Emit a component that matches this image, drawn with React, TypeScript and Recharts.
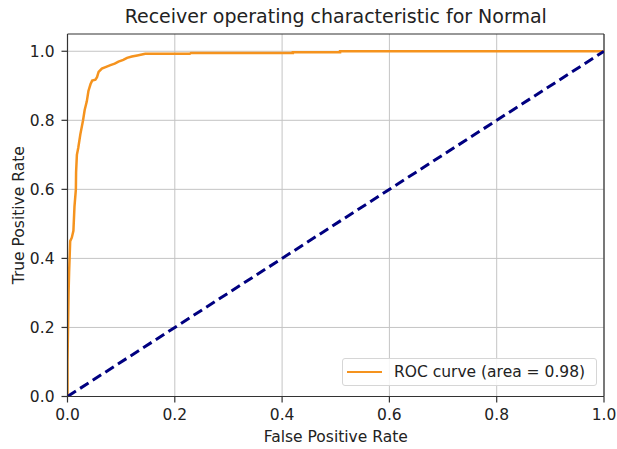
import React from 'react';
import { LineChart, Line, XAxis, YAxis, CartesianGrid, ReferenceLine, Legend } from 'recharts';

const rocX = [0, 0, 0.001, 0.002, 0.003, 0.005, 0.008, 0.011, 0.013, 0.0156, 0.016, 0.0175, 0.02, 0.024, 0.029, 0.032, 0.036, 0.039, 0.043, 0.046, 0.052, 0.055, 0.058, 0.064, 0.072, 0.08, 0.088, 0.095, 0.104, 0.111, 0.12, 0.13, 0.145, 0.228, 0.23, 0.42, 0.42, 0.508, 0.508, 1];
const rocY = [0, 0.1, 0.2, 0.3, 0.36, 0.45, 0.46, 0.48, 0.55, 0.6, 0.65, 0.7, 0.72, 0.76, 0.8, 0.83, 0.855, 0.885, 0.905, 0.915, 0.918, 0.925, 0.94, 0.95, 0.955, 0.96, 0.964, 0.97, 0.975, 0.981, 0.985, 0.988, 0.993, 0.993, 0.995, 0.995, 0.997, 0.997, 1.0, 1.0];
const diagX = [0, 1];
const diagY = [0, 1];
const ticks = [0, 0.2, 0.4, 0.6, 0.8, 1.0];
const title = 'Receiver operating characteristic for Normal';
const xLabel = 'False Positive Rate';
const yLabel = 'True Positive Rate';
const legendLabel = 'ROC curve (area = 0.98)';

const rocData = rocX.map((x, i) => ({ x, y: rocY[i] }));
const diagData = diagX.map((x, i) => ({ x, y: diagY[i] }));

const FONT = '"DejaVu Sans", sans-serif';
const ORANGE = '#F5931E';
const NAVY = '#000080';
const AXIS = '#333333';

const LegendBox = () => (
  <div
    style={{
      position: 'absolute',
      left: 342,
      top: 358,
      width: 255,
      height: 28,
      boxSizing: 'border-box',
      border: '1px solid #d6d6d6',
      borderRadius: 3,
      background: 'rgba(255,255,255,0.85)',
      display: 'flex',
      alignItems: 'center',
      fontFamily: FONT,
      fontSize: 15.5,
      color: '#222',
    }}
  >
    <div style={{ marginLeft: 4, width: 35, height: 2.5, background: ORANGE }} />
    <span style={{ marginLeft: 12, whiteSpace: 'nowrap' }}>{legendLabel}</span>
  </div>
);

export default function App() {
  return (
    <div style={{ position: 'absolute', left: 0, top: 0, width: 617, height: 449, background: '#fff' }}>
      <div
        style={{
          position: 'absolute',
          left: 67.5,
          width: 536.5,
          top: 5,
          textAlign: 'center',
          fontFamily: FONT,
          fontSize: 19,
          color: '#222',
          whiteSpace: 'nowrap',
        }}
      >
        {title}
      </div>
      <LineChart width={617} height={449} margin={{ top: 34, right: 13, left: 0, bottom: 0 }}>
        <CartesianGrid stroke="#c4c4c4" strokeWidth={1} horizontalValues={ticks} verticalValues={ticks} />
        <XAxis
          dataKey="x"
          type="number"
          domain={[0, 1]}
          ticks={ticks}
          tickFormatter={(v: number) => v.toFixed(1)}
          height={52.5}
          tickSize={6}
          tickMargin={6}
          axisLine={{ stroke: AXIS, strokeWidth: 1.2 }}
          tickLine={{ stroke: AXIS, strokeWidth: 1.2 }}
          tick={{ fill: '#222', fontSize: 15.5, fontFamily: FONT }}
          allowDataOverflow
          label={{ value: xLabel, position: 'insideBottom', offset: 7, style: { fill: '#222', fontSize: 15.5, fontFamily: FONT } }}
        />
        <YAxis
          dataKey="y"
          type="number"
          domain={[0, 1.05]}
          ticks={ticks}
          tickFormatter={(v: number) => v.toFixed(1)}
          width={67.5}
          tickSize={6}
          tickMargin={7}
          axisLine={{ stroke: AXIS, strokeWidth: 1.2 }}
          tickLine={{ stroke: AXIS, strokeWidth: 1.2 }}
          tick={{ fill: '#222', fontSize: 15.5, fontFamily: FONT }}
          allowDataOverflow
          label={{ value: yLabel, angle: -90, position: 'insideLeft', offset: 18, style: { textAnchor: 'middle', fill: '#222', fontSize: 15.5, fontFamily: FONT } }}
        />
        <ReferenceLine y={1.05} stroke={AXIS} strokeWidth={1.2} />
        <ReferenceLine x={1} stroke={AXIS} strokeWidth={1.2} />
        <Line data={rocData} dataKey="y" type="linear" stroke={ORANGE} strokeWidth={2.5} dot={false} isAnimationActive={false} />
        <Line data={diagData} dataKey="y" type="linear" stroke={NAVY} strokeWidth={3} strokeDasharray="10 5" dot={false} isAnimationActive={false} />
      </LineChart>
      <LegendBox />
    </div>
  );
}
